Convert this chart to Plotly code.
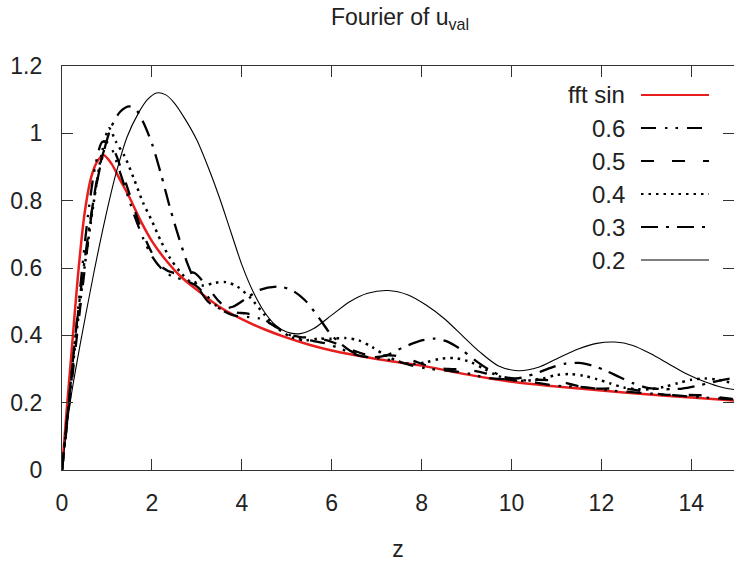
import plotly.graph_objects as go

# values
z_sin = [0, 0.1, 0.2, 0.35, 0.5, 0.65, 0.8, 0.93, 1.1, 1.3, 1.5, 1.75, 2.0, 2.3, 2.6, 3.0,
         3.5, 4.0, 4.5, 5.0, 5.5, 6.0, 7.0, 8.0, 9.0, 10.0, 11.0, 12.0, 13.0, 14.0, 15.0]
fft_sin = [0, 0.17, 0.33, 0.57, 0.76, 0.87, 0.92, 0.935, 0.91, 0.86, 0.81, 0.74, 0.68, 0.625,
           0.58, 0.535, 0.485, 0.448, 0.418, 0.393, 0.372, 0.355, 0.33, 0.31, 0.284, 0.262,
           0.248, 0.236, 0.225, 0.215, 0.206]

z_06 = [0, 0.15, 0.3, 0.45, 0.6, 0.75, 0.9, 1.05, 1.2, 1.4, 1.6, 1.8, 2.0, 2.2, 2.45, 2.7,
        2.95, 3.2, 3.5, 3.8, 4.1, 4.4, 4.7, 5.0, 5.3, 5.6, 5.9, 6.2, 6.6, 7.0, 7.4, 7.8, 8.2,
        8.6, 9.0, 9.4, 9.8, 10.2, 10.6, 11.0, 11.4, 11.8, 12.2, 12.6, 13.0, 13.4, 13.8, 14.2,
        14.6, 15.0]
v_06 = [0, 0.2, 0.4, 0.6, 0.78, 0.91, 0.975, 0.97, 0.92, 0.84, 0.76, 0.69, 0.635, 0.6, 0.575,
        0.565, 0.55, 0.52, 0.48, 0.46, 0.455, 0.45, 0.43, 0.405, 0.39, 0.383, 0.375, 0.36,
        0.34, 0.332, 0.325, 0.31, 0.3, 0.295, 0.288, 0.275, 0.27, 0.268, 0.258, 0.25, 0.248,
        0.243, 0.236, 0.232, 0.228, 0.224, 0.22, 0.216, 0.213, 0.209]

z_05 = [0, 0.15, 0.3, 0.5, 0.7, 0.85, 1.0, 1.15, 1.35, 1.55, 1.75, 2.0, 2.25, 2.5, 2.75, 2.95,
        3.2, 3.5, 3.8, 4.1, 4.4, 4.7, 5.0, 5.3, 5.6, 5.9, 6.3, 6.7, 7.0, 7.4, 7.8, 8.2, 8.6,
        9.0, 9.4, 9.8, 10.2, 10.6, 11.0, 11.4, 11.8, 12.2, 12.6, 13.0, 13.4, 13.8, 14.2, 14.6,
        15.0]
v_05 = [0, 0.18, 0.36, 0.59, 0.8, 0.91, 0.965, 0.95, 0.88, 0.8, 0.72, 0.645, 0.6, 0.585, 0.59,
        0.585, 0.55, 0.5, 0.47, 0.465, 0.455, 0.43, 0.405, 0.395, 0.393, 0.385, 0.365, 0.345,
        0.34, 0.34, 0.325, 0.307, 0.3, 0.298, 0.288, 0.272, 0.265, 0.268, 0.265, 0.252, 0.242,
        0.242, 0.24, 0.232, 0.224, 0.223, 0.222, 0.216, 0.21]

z_04 = [0, 0.15, 0.3, 0.5, 0.7, 0.9, 1.05, 1.2, 1.4, 1.6, 1.8, 2.0, 2.2, 2.4, 2.65, 2.9, 3.15,
        3.4, 3.65, 3.9, 4.2, 4.5, 4.8, 5.1, 5.4, 5.7, 6.0, 6.3, 6.6, 6.9, 7.2, 7.5, 7.8, 8.1,
        8.4, 8.75, 9.1, 9.4, 9.7, 10.0, 10.3, 10.7, 11.0, 11.3, 11.6, 11.9, 12.2, 12.5, 12.8,
        13.1, 13.4, 13.7, 14.0, 14.3, 14.6, 15.0]
v_04 = [0, 0.19, 0.38, 0.6, 0.79, 0.95, 1.015, 0.975, 0.93, 0.865, 0.795, 0.74, 0.68, 0.63,
        0.585, 0.555, 0.548, 0.556, 0.558, 0.545, 0.51, 0.462, 0.42, 0.395, 0.385, 0.39, 0.39,
        0.392, 0.385, 0.365, 0.34, 0.322, 0.315, 0.32, 0.33, 0.332, 0.32, 0.3, 0.28, 0.268,
        0.265, 0.272, 0.282, 0.285, 0.28, 0.27, 0.257, 0.245, 0.24, 0.24, 0.247, 0.258, 0.268,
        0.272, 0.268, 0.255]

z_03 = [0, 0.15, 0.3, 0.5, 0.7, 0.9, 1.1, 1.3, 1.5, 1.65, 1.8, 2.0, 2.2, 2.4, 2.6, 2.8, 3.0,
        3.25, 3.5, 3.8, 4.1, 4.4, 4.8, 5.1, 5.4, 5.7, 6.0, 6.4, 6.8, 7.2, 7.6, 8.0, 8.3, 8.6,
        8.9, 9.2, 9.5, 9.8, 10.1, 10.5, 10.9, 11.2, 11.5, 11.8, 12.1, 12.4, 12.7, 13.0, 13.4,
        13.8, 14.2, 14.6, 15.0]
v_03 = [0, 0.2, 0.4, 0.62, 0.8, 0.93, 1.02, 1.065, 1.08, 1.07, 1.035, 0.97, 0.88, 0.78, 0.69,
        0.61, 0.55, 0.5, 0.48, 0.485, 0.51, 0.535, 0.545, 0.535, 0.505, 0.455, 0.4, 0.355,
        0.335, 0.34, 0.365, 0.385, 0.39, 0.38, 0.356, 0.325, 0.298, 0.278, 0.272, 0.285, 0.305,
        0.316, 0.318, 0.31, 0.295, 0.276, 0.258, 0.245, 0.24, 0.242, 0.252, 0.265, 0.275]

z_02 = [0, 0.18, 0.4, 0.7, 0.95, 1.2, 1.45, 1.7, 1.9, 2.1, 2.3, 2.5, 2.75, 3.0, 3.25, 3.5, 3.75,
        4.0, 4.25, 4.5, 4.75, 5.0, 5.3, 5.6, 6.0, 6.4, 6.8, 7.25, 7.7, 8.1, 8.5, 8.9, 9.3, 9.7,
        10.15, 10.6, 11.0, 11.5, 11.9, 12.3, 12.7, 13.1, 13.5, 13.9, 14.3, 14.7, 15.0]
v_02 = [0, 0.2, 0.37, 0.58, 0.74, 0.88, 0.99, 1.06, 1.1, 1.12, 1.115, 1.09, 1.04, 0.98, 0.9,
        0.81, 0.71, 0.61, 0.53, 0.47, 0.43, 0.41, 0.405, 0.42, 0.46, 0.5, 0.525, 0.533, 0.52,
        0.49, 0.45, 0.4, 0.35, 0.31, 0.295, 0.305, 0.33, 0.36, 0.376, 0.38, 0.37, 0.345, 0.315,
        0.285, 0.262, 0.245, 0.238]

names = ["fft sin", "0.6", "0.5", "0.4", "0.3", "0.2"]
xs = [z_sin, z_06, z_05, z_04, z_03, z_02]
ys = [fft_sin, v_06, v_05, v_04, v_03, v_02]
colors = ["rgb(232,30,30)", "black", "black", "black", "black", "black"]
widths = [2.5, 2.3, 2.3, 2.5, 2.3, 1.1]
dashes = ["solid", "15px,9px,2.5px,8px,2.5px,9px", "13px,18px", "2.5px,5px",
          "17px,8px,3px,8px", "solid"]

W, H = 734, 568
L, R, T, B = 62, 0, 66, 98
FS = 23

fig = go.Figure()
for x, y, n, c, w, d in zip(xs, ys, names, colors, widths, dashes):
    fig.add_trace(go.Scatter(x=x, y=y, name=n, mode="lines",
                             line=dict(color=c, width=w, dash=d, shape="spline", smoothing=0.8),
                             showlegend=False))


def px(xp):
    return (xp - L) / (W - L - R)


def py(yp):
    return (H - B - yp) / (H - T - B)


# gnuplot style key: text on the left, sample on the right
for i, (n, c, w, d) in enumerate(zip(names, colors, widths, dashes)):
    yk = 95 + 33 * i
    fig.add_annotation(x=px(627), y=py(yk), xref="paper", yref="paper", text=n,
                       showarrow=False, xanchor="right", yanchor="middle",
                       font=dict(size=24, color="#222"))
    fig.add_shape(type="line", xref="paper", yref="paper",
                  x0=px(641), x1=px(709), y0=py(yk), y1=py(yk),
                  line=dict(color=c, width=min(w, 2), dash=d))

axis_common = dict(showline=True, linecolor="#333", linewidth=1.3, mirror="ticks",
                   ticks="inside", ticklen=11, tickcolor="#333", tickwidth=1.2,
                   showgrid=False, zeroline=False, automargin=False,
                   tickfont=dict(size=FS, color="#222"))

fig.update_layout(
    width=W, height=H,
    margin=dict(l=L, r=R, t=T, b=B),
    paper_bgcolor="white", plot_bgcolor="white",
    font=dict(family="Liberation Sans, Arial, sans-serif"),
    title=dict(text="Fourier of u<sub>val</sub>", x=400 / W, xanchor="center",
               y=1 - 17 / H, yanchor="middle", font=dict(size=FS, color="#222")),
    xaxis=dict(range=[0, 14.95], dtick=2, tick0=0, ticklabelstandoff=12,
               title=dict(text="z", font=dict(size=FS, color="#222"), standoff=26),
               **axis_common),
    yaxis=dict(range=[0, 1.2], dtick=0.2, tick0=0, ticklabelstandoff=14,
               **axis_common),
)

fig.write_html("out.html", config={"displayModeBar": False},
               post_script="document.body.style.margin='0';")
